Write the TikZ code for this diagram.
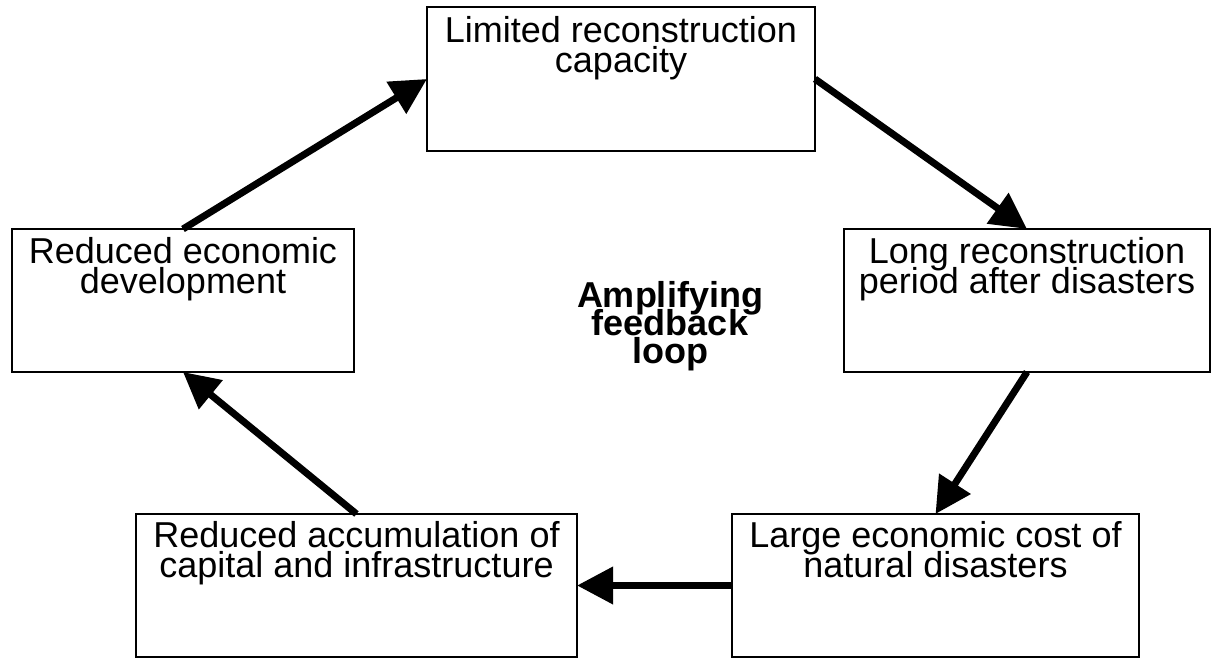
\documentclass[tikz,border=0pt]{standalone}
\usepackage{fontspec}
\setmainfont{Liberation Sans}
\usetikzlibrary{arrows.meta}
\newcommand\mytight{\setlength{\lineskiplimit}{-100pt}\setlength{\lineskip}{0pt}}
\begin{document}
\mytight
\begin{tikzpicture}[x=0.5pt,y=-0.5pt,
  box/.style={draw, line width=1pt, inner sep=0pt, outer sep=0pt, fill=white},
  lbl/.style={anchor=north, inner sep=0pt, align=center, font=\fontsize{18pt}{15pt}\selectfont\mytight},
  ctr/.style={anchor=north, inner sep=0pt, align=center, font=\fontsize{18pt}{14pt}\selectfont\bfseries\mytight},
  arr/.style={line width=3.5pt, -{Triangle[length=18pt,width=18pt]}, shorten >=0pt}]
\useasboundingbox (0,0) rectangle (1211,658);
% boxes
\node[box, minimum width=194pt, minimum height=72pt] (top) at (621,79) {};
\node[box, minimum width=183pt, minimum height=71.5pt] (right) at (1027,300.5) {};
\node[box, minimum width=171pt, minimum height=71.5pt] (left) at (183,300.5) {};
\node[box, minimum width=220.5pt, minimum height=71.5pt] (botL) at (356.5,585.5) {};
\node[box, minimum width=203.5pt, minimum height=71.5pt] (botR) at (935.5,585.5) {};
% texts
\node[lbl] (ttop) at ([yshift=-4.5pt]top.north) {Limited reconstruction\\capacity};
\node[lbl] (tright) at ([yshift=-4pt]right.north) {Long reconstruction\\period after disasters};
\node[lbl] (tleft) at ([yshift=-4pt]left.north) {Reduced economic\\development};
\node[lbl] (tbotL) at ([yshift=-3.5pt]botL.north) {Reduced accumulation of\\capital and infrastructure};
\node[lbl] (tbotR) at ([yshift=-3.5pt]botR.north) {Large economic cost of\\natural disasters};
\node[ctr] (center) at (670,281) {Amplifying\\feedback\\loop};
% arrows
\draw[arr] (left.north) -- (top.west);
\draw[arr] (top.east) -- (right.north);
\draw[arr] (right.south) -- (botR.north);
\draw[arr] (botR.west) -- (botL.east);
\draw[arr] (botL.north) -- (left.south);
\end{tikzpicture}
\end{document}
